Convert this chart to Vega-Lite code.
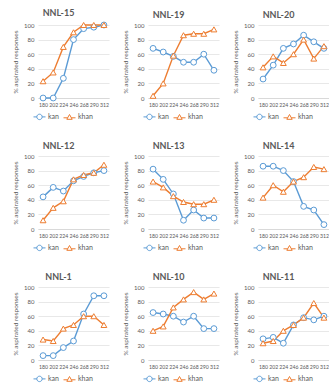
{
  "$schema": "https://vega.github.io/schema/vega-lite/v6.json",
  "padding": {"left": 12, "top": 9, "right": 0, "bottom": 0},
  "bounds": "flush",
  "datasets": {
    "d": [
      {"panel":"NNL-15","series":"kan","ms":180,"pct":0},{"panel":"NNL-15","series":"kan","ms":202,"pct":0},{"panel":"NNL-15","series":"kan","ms":224,"pct":27},{"panel":"NNL-15","series":"kan","ms":246,"pct":80},{"panel":"NNL-15","series":"kan","ms":268,"pct":95},{"panel":"NNL-15","series":"kan","ms":290,"pct":97},{"panel":"NNL-15","series":"kan","ms":312,"pct":100},
      {"panel":"NNL-15","series":"khan","ms":180,"pct":23},{"panel":"NNL-15","series":"khan","ms":202,"pct":35},{"panel":"NNL-15","series":"khan","ms":224,"pct":70},{"panel":"NNL-15","series":"khan","ms":246,"pct":90},{"panel":"NNL-15","series":"khan","ms":268,"pct":100},{"panel":"NNL-15","series":"khan","ms":290,"pct":100},{"panel":"NNL-15","series":"khan","ms":312,"pct":100},
      {"panel":"NNL-19","series":"kan","ms":180,"pct":68},{"panel":"NNL-19","series":"kan","ms":202,"pct":63},{"panel":"NNL-19","series":"kan","ms":224,"pct":57},{"panel":"NNL-19","series":"kan","ms":246,"pct":49},{"panel":"NNL-19","series":"kan","ms":268,"pct":49},{"panel":"NNL-19","series":"kan","ms":290,"pct":60},{"panel":"NNL-19","series":"kan","ms":312,"pct":38},
      {"panel":"NNL-19","series":"khan","ms":180,"pct":3},{"panel":"NNL-19","series":"khan","ms":202,"pct":20},{"panel":"NNL-19","series":"khan","ms":224,"pct":58},{"panel":"NNL-19","series":"khan","ms":246,"pct":86},{"panel":"NNL-19","series":"khan","ms":268,"pct":88},{"panel":"NNL-19","series":"khan","ms":290,"pct":88},{"panel":"NNL-19","series":"khan","ms":312,"pct":94},
      {"panel":"NNL-20","series":"kan","ms":180,"pct":26},{"panel":"NNL-20","series":"kan","ms":202,"pct":45},{"panel":"NNL-20","series":"kan","ms":224,"pct":68},{"panel":"NNL-20","series":"kan","ms":246,"pct":74},{"panel":"NNL-20","series":"kan","ms":268,"pct":86},{"panel":"NNL-20","series":"kan","ms":290,"pct":77},{"panel":"NNL-20","series":"kan","ms":312,"pct":68},
      {"panel":"NNL-20","series":"khan","ms":180,"pct":42},{"panel":"NNL-20","series":"khan","ms":202,"pct":57},{"panel":"NNL-20","series":"khan","ms":224,"pct":48},{"panel":"NNL-20","series":"khan","ms":246,"pct":60},{"panel":"NNL-20","series":"khan","ms":268,"pct":80},{"panel":"NNL-20","series":"khan","ms":290,"pct":54},{"panel":"NNL-20","series":"khan","ms":312,"pct":71},
      {"panel":"NNL-12","series":"kan","ms":180,"pct":44},{"panel":"NNL-12","series":"kan","ms":202,"pct":57},{"panel":"NNL-12","series":"kan","ms":224,"pct":52},{"panel":"NNL-12","series":"kan","ms":246,"pct":66},{"panel":"NNL-12","series":"kan","ms":268,"pct":72},{"panel":"NNL-12","series":"kan","ms":290,"pct":77},{"panel":"NNL-12","series":"kan","ms":312,"pct":80},
      {"panel":"NNL-12","series":"khan","ms":180,"pct":12},{"panel":"NNL-12","series":"khan","ms":202,"pct":29},{"panel":"NNL-12","series":"khan","ms":224,"pct":38},{"panel":"NNL-12","series":"khan","ms":246,"pct":68},{"panel":"NNL-12","series":"khan","ms":268,"pct":74},{"panel":"NNL-12","series":"khan","ms":290,"pct":77},{"panel":"NNL-12","series":"khan","ms":312,"pct":88},
      {"panel":"NNL-13","series":"kan","ms":180,"pct":82},{"panel":"NNL-13","series":"kan","ms":202,"pct":68},{"panel":"NNL-13","series":"kan","ms":224,"pct":48},{"panel":"NNL-13","series":"kan","ms":246,"pct":12},{"panel":"NNL-13","series":"kan","ms":268,"pct":26},{"panel":"NNL-13","series":"kan","ms":290,"pct":15},{"panel":"NNL-13","series":"kan","ms":312,"pct":15},
      {"panel":"NNL-13","series":"khan","ms":180,"pct":65},{"panel":"NNL-13","series":"khan","ms":202,"pct":57},{"panel":"NNL-13","series":"khan","ms":224,"pct":45},{"panel":"NNL-13","series":"khan","ms":246,"pct":37},{"panel":"NNL-13","series":"khan","ms":268,"pct":34},{"panel":"NNL-13","series":"khan","ms":290,"pct":34},{"panel":"NNL-13","series":"khan","ms":312,"pct":40},
      {"panel":"NNL-14","series":"kan","ms":180,"pct":86},{"panel":"NNL-14","series":"kan","ms":202,"pct":86},{"panel":"NNL-14","series":"kan","ms":224,"pct":80},{"panel":"NNL-14","series":"kan","ms":246,"pct":65},{"panel":"NNL-14","series":"kan","ms":268,"pct":31},{"panel":"NNL-14","series":"kan","ms":290,"pct":26},{"panel":"NNL-14","series":"kan","ms":312,"pct":6},
      {"panel":"NNL-14","series":"khan","ms":180,"pct":43},{"panel":"NNL-14","series":"khan","ms":202,"pct":60},{"panel":"NNL-14","series":"khan","ms":224,"pct":51},{"panel":"NNL-14","series":"khan","ms":246,"pct":65},{"panel":"NNL-14","series":"khan","ms":268,"pct":71},{"panel":"NNL-14","series":"khan","ms":290,"pct":85},{"panel":"NNL-14","series":"khan","ms":312,"pct":82},
      {"panel":"NNL-1","series":"kan","ms":180,"pct":6},{"panel":"NNL-1","series":"kan","ms":202,"pct":6},{"panel":"NNL-1","series":"kan","ms":224,"pct":17},{"panel":"NNL-1","series":"kan","ms":246,"pct":26},{"panel":"NNL-1","series":"kan","ms":268,"pct":63},{"panel":"NNL-1","series":"kan","ms":290,"pct":88},{"panel":"NNL-1","series":"kan","ms":312,"pct":88},
      {"panel":"NNL-1","series":"khan","ms":180,"pct":28},{"panel":"NNL-1","series":"khan","ms":202,"pct":26},{"panel":"NNL-1","series":"khan","ms":224,"pct":43},{"panel":"NNL-1","series":"khan","ms":246,"pct":48},{"panel":"NNL-1","series":"khan","ms":268,"pct":60},{"panel":"NNL-1","series":"khan","ms":290,"pct":60},{"panel":"NNL-1","series":"khan","ms":312,"pct":48},
      {"panel":"NNL-10","series":"kan","ms":180,"pct":65},{"panel":"NNL-10","series":"kan","ms":202,"pct":63},{"panel":"NNL-10","series":"kan","ms":224,"pct":60},{"panel":"NNL-10","series":"kan","ms":246,"pct":52},{"panel":"NNL-10","series":"kan","ms":268,"pct":60},{"panel":"NNL-10","series":"kan","ms":290,"pct":43},{"panel":"NNL-10","series":"kan","ms":312,"pct":43},
      {"panel":"NNL-10","series":"khan","ms":180,"pct":40},{"panel":"NNL-10","series":"khan","ms":202,"pct":46},{"panel":"NNL-10","series":"khan","ms":224,"pct":72},{"panel":"NNL-10","series":"khan","ms":246,"pct":83},{"panel":"NNL-10","series":"khan","ms":268,"pct":93},{"panel":"NNL-10","series":"khan","ms":290,"pct":83},{"panel":"NNL-10","series":"khan","ms":312,"pct":91},
      {"panel":"NNL-11","series":"kan","ms":180,"pct":29},{"panel":"NNL-11","series":"kan","ms":202,"pct":31},{"panel":"NNL-11","series":"kan","ms":224,"pct":23},{"panel":"NNL-11","series":"kan","ms":246,"pct":48},{"panel":"NNL-11","series":"kan","ms":268,"pct":58},{"panel":"NNL-11","series":"kan","ms":290,"pct":55},{"panel":"NNL-11","series":"kan","ms":312,"pct":60},
      {"panel":"NNL-11","series":"khan","ms":180,"pct":23},{"panel":"NNL-11","series":"khan","ms":202,"pct":26},{"panel":"NNL-11","series":"khan","ms":224,"pct":40},{"panel":"NNL-11","series":"khan","ms":246,"pct":48},{"panel":"NNL-11","series":"khan","ms":268,"pct":58},{"panel":"NNL-11","series":"khan","ms":290,"pct":78},{"panel":"NNL-11","series":"khan","ms":312,"pct":58}
    ]
  },
  "data": {"name": "d"},
  "columns": 3,
  "spacing": {"row": 58, "column": 39},
  "resolve": {"scale": {"color": "independent", "shape": "independent", "x": "independent", "y": "independent"}},
  "concat": [
    {"title": "NNL-15", "transform": [{"filter": "datum.panel === 'NNL-15'"}], "width": 71, "height": 73,
     "encoding": {"x": {"field": "ms", "type": "ordinal", "scale": {"padding": 0.5}}, "y": {"field": "pct", "type": "quantitative", "scale": {"domain": [0, 100]}, "axis": {"values": [0,20,40,60,80,100], "title": "% aspirated responses"}}, "color": {"field": "series", "type": "nominal", "scale": {"domain": ["kan","khan"], "range": ["#5B9BD5","#ED7D31"]}, "legend": {"title": null}}},
     "layer": [
      {"mark": {"type": "line", "strokeWidth": 1.4}},
      {"transform": [{"filter": "datum.series === 'kan'"}], "mark": {"type": "point", "shape": "circle", "filled": false, "fill": "white", "size": 34, "strokeWidth": 1, "opacity": 1}},
      {"transform": [{"filter": "datum.series === 'khan'"}], "mark": {"type": "point", "shape": "triangle-up", "filled": false, "fill": "white", "size": 34, "strokeWidth": 1, "opacity": 1}},
      {"transform": [{"filter": "false"}], "mark": {"type": "point", "filled": false}, "encoding": {"shape": {"field": "series", "type": "nominal", "scale": {"domain": ["kan","khan"], "range": ["M-1,0H-0.45A0.45,0.45 0 1 1 0.45,0A0.45,0.45 0 1 1 -0.45,0M0.45,0H1", "M-1,0.1H-0.3M0.3,0.1H1M0,-0.45L0.45,0.35L-0.45,0.35Z"]}, "legend": {"title": null}}}}
     ]},
    {"title": "NNL-19", "transform": [{"filter": "datum.panel === 'NNL-19'"}], "width": 71, "height": 73,
     "encoding": {"x": {"field": "ms", "type": "ordinal", "scale": {"padding": 0.5}}, "y": {"field": "pct", "type": "quantitative", "scale": {"domain": [0, 100]}, "axis": {"values": [0,20,40,60,80,100], "title": "% aspirated responses"}}, "color": {"field": "series", "type": "nominal", "scale": {"domain": ["kan","khan"], "range": ["#5B9BD5","#ED7D31"]}, "legend": {"title": null}}},
     "layer": [
      {"mark": {"type": "line", "strokeWidth": 1.4}},
      {"transform": [{"filter": "datum.series === 'kan'"}], "mark": {"type": "point", "shape": "circle", "filled": false, "fill": "white", "size": 34, "strokeWidth": 1, "opacity": 1}},
      {"transform": [{"filter": "datum.series === 'khan'"}], "mark": {"type": "point", "shape": "triangle-up", "filled": false, "fill": "white", "size": 34, "strokeWidth": 1, "opacity": 1}},
      {"transform": [{"filter": "false"}], "mark": {"type": "point", "filled": false}, "encoding": {"shape": {"field": "series", "type": "nominal", "scale": {"domain": ["kan","khan"], "range": ["M-1,0H-0.45A0.45,0.45 0 1 1 0.45,0A0.45,0.45 0 1 1 -0.45,0M0.45,0H1", "M-1,0.1H-0.3M0.3,0.1H1M0,-0.45L0.45,0.35L-0.45,0.35Z"]}, "legend": {"title": null}}}}
     ]},
    {"title": "NNL-20", "transform": [{"filter": "datum.panel === 'NNL-20'"}], "width": 71, "height": 73,
     "encoding": {"x": {"field": "ms", "type": "ordinal", "scale": {"padding": 0.5}}, "y": {"field": "pct", "type": "quantitative", "scale": {"domain": [0, 100]}, "axis": {"values": [0,20,40,60,80,100], "title": "% aspirated responses"}}, "color": {"field": "series", "type": "nominal", "scale": {"domain": ["kan","khan"], "range": ["#5B9BD5","#ED7D31"]}, "legend": {"title": null}}},
     "layer": [
      {"mark": {"type": "line", "strokeWidth": 1.4}},
      {"transform": [{"filter": "datum.series === 'kan'"}], "mark": {"type": "point", "shape": "circle", "filled": false, "fill": "white", "size": 34, "strokeWidth": 1, "opacity": 1}},
      {"transform": [{"filter": "datum.series === 'khan'"}], "mark": {"type": "point", "shape": "triangle-up", "filled": false, "fill": "white", "size": 34, "strokeWidth": 1, "opacity": 1}},
      {"transform": [{"filter": "false"}], "mark": {"type": "point", "filled": false}, "encoding": {"shape": {"field": "series", "type": "nominal", "scale": {"domain": ["kan","khan"], "range": ["M-1,0H-0.45A0.45,0.45 0 1 1 0.45,0A0.45,0.45 0 1 1 -0.45,0M0.45,0H1", "M-1,0.1H-0.3M0.3,0.1H1M0,-0.45L0.45,0.35L-0.45,0.35Z"]}, "legend": {"title": null}}}}
     ]},
    {"title": "NNL-12", "transform": [{"filter": "datum.panel === 'NNL-12'"}], "width": 71, "height": 73,
     "encoding": {"x": {"field": "ms", "type": "ordinal", "scale": {"padding": 0.5}}, "y": {"field": "pct", "type": "quantitative", "scale": {"domain": [0, 100]}, "axis": {"values": [0,20,40,60,80,100], "title": "% aspirated responses"}}, "color": {"field": "series", "type": "nominal", "scale": {"domain": ["kan","khan"], "range": ["#5B9BD5","#ED7D31"]}, "legend": {"title": null}}},
     "layer": [
      {"mark": {"type": "line", "strokeWidth": 1.4}},
      {"transform": [{"filter": "datum.series === 'kan'"}], "mark": {"type": "point", "shape": "circle", "filled": false, "fill": "white", "size": 34, "strokeWidth": 1, "opacity": 1}},
      {"transform": [{"filter": "datum.series === 'khan'"}], "mark": {"type": "point", "shape": "triangle-up", "filled": false, "fill": "white", "size": 34, "strokeWidth": 1, "opacity": 1}},
      {"transform": [{"filter": "false"}], "mark": {"type": "point", "filled": false}, "encoding": {"shape": {"field": "series", "type": "nominal", "scale": {"domain": ["kan","khan"], "range": ["M-1,0H-0.45A0.45,0.45 0 1 1 0.45,0A0.45,0.45 0 1 1 -0.45,0M0.45,0H1", "M-1,0.1H-0.3M0.3,0.1H1M0,-0.45L0.45,0.35L-0.45,0.35Z"]}, "legend": {"title": null}}}}
     ]},
    {"title": "NNL-13", "transform": [{"filter": "datum.panel === 'NNL-13'"}], "width": 71, "height": 73,
     "encoding": {"x": {"field": "ms", "type": "ordinal", "scale": {"padding": 0.5}}, "y": {"field": "pct", "type": "quantitative", "scale": {"domain": [0, 100]}, "axis": {"values": [0,20,40,60,80,100], "title": "% aspirated responses"}}, "color": {"field": "series", "type": "nominal", "scale": {"domain": ["kan","khan"], "range": ["#5B9BD5","#ED7D31"]}, "legend": {"title": null}}},
     "layer": [
      {"mark": {"type": "line", "strokeWidth": 1.4}},
      {"transform": [{"filter": "datum.series === 'kan'"}], "mark": {"type": "point", "shape": "circle", "filled": false, "fill": "white", "size": 34, "strokeWidth": 1, "opacity": 1}},
      {"transform": [{"filter": "datum.series === 'khan'"}], "mark": {"type": "point", "shape": "triangle-up", "filled": false, "fill": "white", "size": 34, "strokeWidth": 1, "opacity": 1}},
      {"transform": [{"filter": "false"}], "mark": {"type": "point", "filled": false}, "encoding": {"shape": {"field": "series", "type": "nominal", "scale": {"domain": ["kan","khan"], "range": ["M-1,0H-0.45A0.45,0.45 0 1 1 0.45,0A0.45,0.45 0 1 1 -0.45,0M0.45,0H1", "M-1,0.1H-0.3M0.3,0.1H1M0,-0.45L0.45,0.35L-0.45,0.35Z"]}, "legend": {"title": null}}}}
     ]},
    {"title": "NNL-14", "transform": [{"filter": "datum.panel === 'NNL-14'"}], "width": 71, "height": 73,
     "encoding": {"x": {"field": "ms", "type": "ordinal", "scale": {"padding": 0.5}}, "y": {"field": "pct", "type": "quantitative", "scale": {"domain": [0, 100]}, "axis": {"values": [0,20,40,60,80,100], "title": "% aspirated responses"}}, "color": {"field": "series", "type": "nominal", "scale": {"domain": ["kan","khan"], "range": ["#5B9BD5","#ED7D31"]}, "legend": {"title": null}}},
     "layer": [
      {"mark": {"type": "line", "strokeWidth": 1.4}},
      {"transform": [{"filter": "datum.series === 'kan'"}], "mark": {"type": "point", "shape": "circle", "filled": false, "fill": "white", "size": 34, "strokeWidth": 1, "opacity": 1}},
      {"transform": [{"filter": "datum.series === 'khan'"}], "mark": {"type": "point", "shape": "triangle-up", "filled": false, "fill": "white", "size": 34, "strokeWidth": 1, "opacity": 1}},
      {"transform": [{"filter": "false"}], "mark": {"type": "point", "filled": false}, "encoding": {"shape": {"field": "series", "type": "nominal", "scale": {"domain": ["kan","khan"], "range": ["M-1,0H-0.45A0.45,0.45 0 1 1 0.45,0A0.45,0.45 0 1 1 -0.45,0M0.45,0H1", "M-1,0.1H-0.3M0.3,0.1H1M0,-0.45L0.45,0.35L-0.45,0.35Z"]}, "legend": {"title": null}}}}
     ]},
    {"title": "NNL-1", "transform": [{"filter": "datum.panel === 'NNL-1'"}], "width": 71, "height": 73,
     "encoding": {"x": {"field": "ms", "type": "ordinal", "scale": {"padding": 0.5}}, "y": {"field": "pct", "type": "quantitative", "scale": {"domain": [0, 100]}, "axis": {"values": [0,20,40,60,80,100], "title": "% aspirated responses"}}, "color": {"field": "series", "type": "nominal", "scale": {"domain": ["kan","khan"], "range": ["#5B9BD5","#ED7D31"]}, "legend": {"title": null}}},
     "layer": [
      {"mark": {"type": "line", "strokeWidth": 1.4}},
      {"transform": [{"filter": "datum.series === 'kan'"}], "mark": {"type": "point", "shape": "circle", "filled": false, "fill": "white", "size": 34, "strokeWidth": 1, "opacity": 1}},
      {"transform": [{"filter": "datum.series === 'khan'"}], "mark": {"type": "point", "shape": "triangle-up", "filled": false, "fill": "white", "size": 34, "strokeWidth": 1, "opacity": 1}},
      {"transform": [{"filter": "false"}], "mark": {"type": "point", "filled": false}, "encoding": {"shape": {"field": "series", "type": "nominal", "scale": {"domain": ["kan","khan"], "range": ["M-1,0H-0.45A0.45,0.45 0 1 1 0.45,0A0.45,0.45 0 1 1 -0.45,0M0.45,0H1", "M-1,0.1H-0.3M0.3,0.1H1M0,-0.45L0.45,0.35L-0.45,0.35Z"]}, "legend": {"title": null}}}}
     ]},
    {"title": "NNL-10", "transform": [{"filter": "datum.panel === 'NNL-10'"}], "width": 71, "height": 73,
     "encoding": {"x": {"field": "ms", "type": "ordinal", "scale": {"padding": 0.5}}, "y": {"field": "pct", "type": "quantitative", "scale": {"domain": [0, 100]}, "axis": {"values": [0,20,40,60,80,100], "title": "% aspirated responses"}}, "color": {"field": "series", "type": "nominal", "scale": {"domain": ["kan","khan"], "range": ["#5B9BD5","#ED7D31"]}, "legend": {"title": null}}},
     "layer": [
      {"mark": {"type": "line", "strokeWidth": 1.4}},
      {"transform": [{"filter": "datum.series === 'kan'"}], "mark": {"type": "point", "shape": "circle", "filled": false, "fill": "white", "size": 34, "strokeWidth": 1, "opacity": 1}},
      {"transform": [{"filter": "datum.series === 'khan'"}], "mark": {"type": "point", "shape": "triangle-up", "filled": false, "fill": "white", "size": 34, "strokeWidth": 1, "opacity": 1}},
      {"transform": [{"filter": "false"}], "mark": {"type": "point", "filled": false}, "encoding": {"shape": {"field": "series", "type": "nominal", "scale": {"domain": ["kan","khan"], "range": ["M-1,0H-0.45A0.45,0.45 0 1 1 0.45,0A0.45,0.45 0 1 1 -0.45,0M0.45,0H1", "M-1,0.1H-0.3M0.3,0.1H1M0,-0.45L0.45,0.35L-0.45,0.35Z"]}, "legend": {"title": null}}}}
     ]},
    {"title": "NNL-11", "transform": [{"filter": "datum.panel === 'NNL-11'"}], "width": 71, "height": 73,
     "encoding": {"x": {"field": "ms", "type": "ordinal", "scale": {"padding": 0.5}}, "y": {"field": "pct", "type": "quantitative", "scale": {"domain": [0, 100]}, "axis": {"values": [0,20,40,60,80,100], "title": "% aspirated responses"}}, "color": {"field": "series", "type": "nominal", "scale": {"domain": ["kan","khan"], "range": ["#5B9BD5","#ED7D31"]}, "legend": {"title": null}}},
     "layer": [
      {"mark": {"type": "line", "strokeWidth": 1.4}},
      {"transform": [{"filter": "datum.series === 'kan'"}], "mark": {"type": "point", "shape": "circle", "filled": false, "fill": "white", "size": 34, "strokeWidth": 1, "opacity": 1}},
      {"transform": [{"filter": "datum.series === 'khan'"}], "mark": {"type": "point", "shape": "triangle-up", "filled": false, "fill": "white", "size": 34, "strokeWidth": 1, "opacity": 1}},
      {"transform": [{"filter": "false"}], "mark": {"type": "point", "filled": false}, "encoding": {"shape": {"field": "series", "type": "nominal", "scale": {"domain": ["kan","khan"], "range": ["M-1,0H-0.45A0.45,0.45 0 1 1 0.45,0A0.45,0.45 0 1 1 -0.45,0M0.45,0H1", "M-1,0.1H-0.3M0.3,0.1H1M0,-0.45L0.45,0.35L-0.45,0.35Z"]}, "legend": {"title": null}}}}
     ]}
  ],
  "config": {
    "font": "Lato",
    "view": {"stroke": null},
    "title": {"fontSize": 9, "fontWeight": "bold", "color": "#595959", "offset": 2, "dx": -15},
    "axis": {"labelFontSize": 6, "labelColor": "#595959", "titleFontSize": 6.5, "titleFontWeight": "normal", "titleColor": "#595959", "ticks": false, "gridColor": "#d9d9d9", "gridWidth": 0.6, "domainColor": "#d9d9d9", "labelPadding": 4, "titlePadding": 5},
    "axisX": {"title": null, "labelAngle": 0, "labelFontSize": 5.2, "grid": false, "labelPadding": 4},
    "axisY": {"domain": false},
    "legend": {"orient": "none", "legendX": -5, "legendY": 85, "direction": "horizontal", "labelFontSize": 7, "labelColor": "#595959", "symbolSize": 144, "symbolStrokeWidth": 1, "symbolFillColor": "white", "labelOffset": 2, "columnPadding": 2, "padding": 0}
  }
}
